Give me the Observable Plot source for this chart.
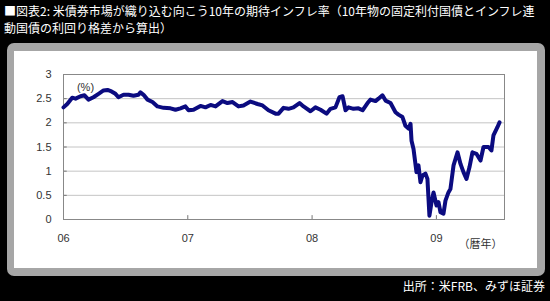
<!DOCTYPE html>
<html><head><meta charset="utf-8">
<script src="https://cdn.jsdelivr.net/npm/d3@7"></script>
<script src="https://cdn.jsdelivr.net/npm/@observablehq/plot@0.6"></script>
<style>
html,body{margin:0;padding:0;background:#000;width:550px;height:301px;overflow:hidden;}
body{position:relative;font-family:"Noto Sans CJK JP",sans-serif;}
#title{position:absolute;left:4px;top:2px;color:#fff;font-size:12px;line-height:17px;white-space:nowrap;font-weight:400;}
#box{position:absolute;left:7px;top:43px;width:538px;height:233px;background:#a6a6a6;border-radius:7px;}
#panel{position:absolute;left:14px;top:51px;width:523px;height:217px;background:#fff;}
#panel svg{display:block;}
#source{position:absolute;right:5px;top:279px;color:#fff;font-size:12px;line-height:14px;white-space:nowrap;}
</style>
</head><body>
<div id="title">■図表2: 米債券市場が織り込む向こう10年の期待インフレ率（10年物の固定利付国債とインフレ連<br>動国債の利回り格差から算出）</div>
<div id="box"></div>
<div id="panel"></div>
<div id="source">出所：米FRB、みずほ証券</div>
<script>
// decimal years and expected inflation rate (%)
const years = [2006.000,2006.030,2006.070,2006.097,2006.137,2006.169,2006.201,2006.241,2006.282,2006.322,2006.354,2006.386,2006.418,2006.442,2006.483,2006.523,2006.563,2006.603,2006.619,2006.644,2006.676,2006.716,2006.756,2006.805,2006.861,2006.901,2006.941,2006.981,
2007.006,2007.046,2007.102,2007.142,2007.183,2007.223,2007.279,2007.319,2007.360,2007.408,2007.448,2007.504,2007.561,2007.601,2007.649,2007.706,2007.730,2007.770,2007.810,2007.850,2007.899,2007.931,2007.987,
2008.027,2008.068,2008.116,2008.148,2008.188,2008.220,2008.245,2008.269,2008.293,2008.333,2008.373,2008.406,2008.446,2008.470,2008.510,2008.534,2008.566,2008.591,2008.631,2008.671,2008.695,2008.727,2008.751,2008.776,2008.792,2008.800,2008.816,2008.840,2008.856,2008.872,2008.888,2008.912,2008.928,2008.944,2008.961,2008.977,
2009.001,2009.017,2009.033,2009.057,2009.073,2009.097,2009.113,2009.138,2009.170,2009.194,2009.218,2009.242,2009.266,2009.290,2009.322,2009.355,2009.379,2009.419,2009.443,2009.459,2009.491,2009.508];
const rates = [2.32,2.39,2.52,2.50,2.55,2.57,2.48,2.53,2.60,2.67,2.68,2.65,2.60,2.53,2.58,2.58,2.56,2.58,2.63,2.58,2.48,2.43,2.34,2.31,2.30,2.27,2.30,2.34,
2.26,2.27,2.35,2.32,2.37,2.34,2.45,2.41,2.43,2.34,2.36,2.44,2.39,2.36,2.26,2.19,2.19,2.31,2.29,2.32,2.41,2.34,2.24,
2.32,2.27,2.19,2.29,2.32,2.53,2.55,2.26,2.32,2.29,2.30,2.26,2.41,2.48,2.45,2.50,2.57,2.46,2.41,2.22,2.17,2.12,1.94,1.88,1.98,1.63,1.46,0.98,1.12,0.77,0.91,0.95,0.84,0.08,0.36,0.56,
0.29,0.36,0.15,0.12,0.39,0.56,0.63,1.12,1.39,1.15,0.98,0.84,1.08,1.39,1.36,1.22,1.50,1.50,1.43,1.74,1.91,2.01];
const yTicks = [0,0.5,1,1.5,2,2.5,3];
const xTicks = [2006,2007,2008,2009];
const xTickLabels = ["06","07","08","09"];
const unitLabel = "(%)";
const xUnitLabel = "（暦年）";

const data = years.map((t,i)=>({t, v: rates[i]}));

const chart = Plot.plot({
  width:523, height:217,
  marginLeft:49, marginRight:33, marginTop:23, marginBottom:49,
  style:{fontFamily:"'Liberation Sans', Arial, sans-serif", fontSize:"11px", color:"#333", background:"transparent"},
  x:{type:"linear", domain:[2006,2009.548], label:null},
  y:{domain:[0,3], label:null},
  marks:[
    Plot.gridY(yTicks.slice(1,-1), {stroke:"#c4c4c4", strokeOpacity:1}),
    Plot.axisY(yTicks, {tickSize:0, tickPadding:12, tickFormat:d=>String(d), label:null}),
    Plot.axisX(xTicks, {tickSize:0, tickPadding:15, tickFormat:d=>xTickLabels[xTicks.indexOf(d)], label:null}),
    Plot.ruleX(xTicks.slice(1), {y1:0, y2:0.08, stroke:"#777"}),
    Plot.ruleY(yTicks, {x1:2006, x2:2006.03, stroke:"#777"}),
    Plot.frame({stroke:"#888"}),
    Plot.line(data, {x:"t", y:"v", stroke:"#0b0b80", strokeWidth:4, strokeLinejoin:"round", strokeLinecap:"round"}),
    Plot.text([unitLabel], {frameAnchor:"top-left", textAnchor:"middle", dx:22, dy:9, fill:"#333", fontSize:11}),
    Plot.text([xUnitLabel], {frameAnchor:"bottom-right", textAnchor:"end", dx:-2, dy:28, fill:"#333", fontSize:11, fontFamily:"'Noto Sans CJK JP', sans-serif"})
  ]
});
document.getElementById("panel").appendChild(chart);
</script>
</body></html>
